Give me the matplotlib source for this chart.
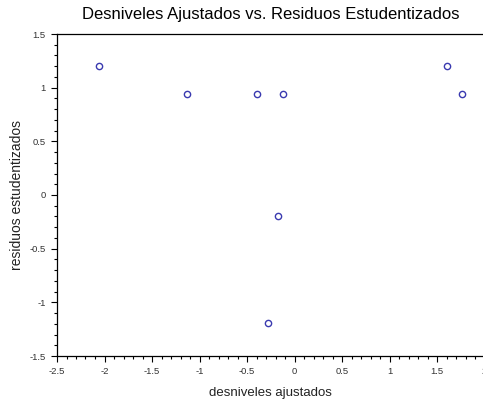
import matplotlib
matplotlib.use("Agg")
import matplotlib.pyplot as plt
from matplotlib.ticker import MultipleLocator

plt.rcParams['font.family'] = ['Liberation Sans', 'DejaVu Sans']

desniveles = [-2.055, -1.13, -0.395, -0.118, -0.177, -0.276, 1.605, 1.763]
residuos = [1.20, 0.94, 0.94, 0.94, -0.193, -1.196, 1.20, 0.94]

title = "Desniveles Ajustados vs. Residuos Estudentizados"
xlabel = "desniveles ajustados"
ylabel = "residuos estudentizados"

fig = plt.figure(figsize=(4.83, 4.05), dpi=100)
ax = fig.add_axes([57/483, 1-356/405, (484.5-57)/483, (356-34)/405])

ax.plot(desniveles, residuos, linestyle='none', marker='o', markersize=4.5,
        markerfacecolor='none', markeredgecolor='#3a3ab0', markeredgewidth=1.0)

ax.set_xlim(-2.5, 2)
ax.set_ylim(-1.5, 1.5)
ax.xaxis.set_major_locator(MultipleLocator(0.5))
ax.xaxis.set_minor_locator(MultipleLocator(0.1))
ax.yaxis.set_major_locator(MultipleLocator(0.5))
ax.yaxis.set_minor_locator(MultipleLocator(0.1))

def fmt(v, p):
    return f"{v:g}"
ax.xaxis.set_major_formatter(plt.FuncFormatter(fmt))
ax.yaxis.set_major_formatter(plt.FuncFormatter(fmt))

ax.tick_params(which='major', direction='out', length=4.5, width=0.8, labelsize=6.8, colors='black', labelcolor='#333333', pad=3.5)
ax.tick_params(which='minor', direction='out', length=2.2, width=0.8)

for s in ax.spines.values():
    s.set_linewidth(0.9)

ax.set_title(title, fontsize=12, pad=11)
ax.set_xlabel(xlabel, fontsize=9.5, color='#222222', labelpad=8)
ax.set_ylabel(ylabel, fontsize=10, color='#222222', labelpad=4)

fig.savefig("out.png", dpi=100)
